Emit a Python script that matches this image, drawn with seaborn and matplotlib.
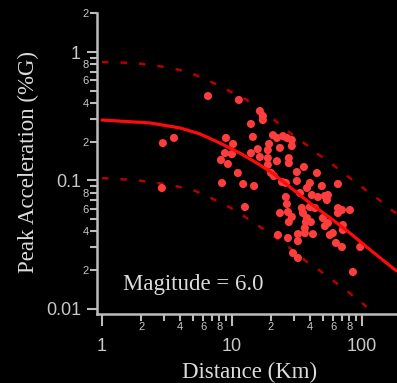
import matplotlib
matplotlib.use("Agg")
import matplotlib.pyplot as plt
import seaborn as sns
import pandas as pd
from matplotlib.ticker import FixedLocator, FixedFormatter

# ---------------- data ----------------
obs_distance_km = [2.94, 3.58, 2.89, 6.54, 11.3, 16.4, 17.3, 17.3, 14.0, 14.5,
                   20.7, 22.2, 24.7, 26.5, 28.9, 28.9, 8.99, 10.2, 8.84, 10.0,
                   8.23, 9.31, 19.3, 18.9, 23.4, 14.0, 15.8, 16.4, 18.9, 18.9,
                   22.2, 27.4, 27.4, 35.8, 31.6, 45.1, 11.1, 20.0, 21.0, 8.38,
                   12.2, 14.8, 24.3, 26.0, 31.6, 39.8, 37.8, 49.2, 65.4, 12.6,
                   26.0, 26.5, 33.4, 23.4, 27.0, 28.9, 27.4, 34.5, 37.8, 36.4,
                   22.6, 27.0, 32.2, 32.2, 36.4, 42.0, 29.5, 32.2, 39.8, 43.5,
                   37.1, 40.5, 54.8, 53.8, 50.1, 54.8, 51.9, 70.2, 80.9, 59.8,
                   63.1, 70.2, 71.4, 71.4, 97.0, 85.3, 41.2, 45.9, 51.9, 65.4,
                   65.4, 56.7, 35.2]
obs_pga = [0.195, 0.214, 0.0871, 0.454, 0.423, 0.347, 0.317, 0.295, 0.275, 0.218,
           0.225, 0.214, 0.221, 0.214, 0.206, 0.185, 0.214, 0.192, 0.163, 0.160,
           0.144, 0.134, 0.192, 0.172, 0.179, 0.163, 0.175, 0.152, 0.149, 0.132,
           0.141, 0.149, 0.136, 0.127, 0.116, 0.114, 0.114, 0.114, 0.108, 0.0953,
           0.0936, 0.0903, 0.0970, 0.0953, 0.0988, 0.0953, 0.0871, 0.0903, 0.0936, 0.0619,
           0.0741, 0.0653, 0.0796, 0.0556, 0.0566, 0.0518, 0.0473, 0.0608, 0.0508, 0.0425,
           0.0375, 0.0355, 0.0381, 0.0336, 0.0388, 0.0381, 0.0271, 0.0248, 0.0619, 0.0608,
           0.0473, 0.0473, 0.0768, 0.0702, 0.0508, 0.0465, 0.0440, 0.0587, 0.0587, 0.0388,
           0.0325, 0.0302, 0.0448, 0.0410, 0.0302, 0.0193, 0.0768, 0.0741, 0.0755, 0.0608,
           0.0556, 0.0375, 0.0556]

median_distance = [1.0, 2.34, 3.98, 5.67, 8.09, 11.5, 16.4, 21.4, 27.9, 39.8,
                   59.8, 80.9, 109, 176, 186]
median_pga = [0.295, 0.280, 0.256, 0.230, 0.195, 0.163, 0.132, 0.110, 0.0887, 0.0665,
              0.0491, 0.0388, 0.0302, 0.0204, 0.0197]

upper_distance = [1.0, 1.79, 2.34, 3.05, 3.98, 5.01, 6.42, 8.09, 10.2, 13.0,
                  16.4, 20.3, 24.7, 30.5, 37.8, 45.9, 57.8, 70.2, 86.8, 107,
                  133, 158, 186]
upper_pga = [0.836, 0.821, 0.792, 0.764, 0.724, 0.674, 0.605, 0.543, 0.479, 0.423,
             0.353, 0.306, 0.260, 0.218, 0.188, 0.160, 0.136, 0.116, 0.0988, 0.0840,
             0.0715, 0.0619, 0.0546]

lower_distance = [1.0, 1.79, 2.34, 3.05, 3.98, 5.01, 6.42, 8.23, 10.2, 13.0,
                  16.1, 20.0, 24.7, 30.5, 37.8, 46.7, 57.8, 71.4, 88.3, 109]
lower_pga = [0.104, 0.1005, 0.0970, 0.0936, 0.0887, 0.0840, 0.0755, 0.0665, 0.0597, 0.0508,
             0.0440, 0.0381, 0.0325, 0.0277, 0.0231, 0.0200, 0.0170, 0.0145, 0.0123, 0.0103]

y_major = [0.01, 0.1, 1]
y_major_labels = ["0.01", "0.1", "1"]
y_minor = [0.02, 0.03, 0.04, 0.05, 0.06, 0.07, 0.08, 0.09,
           0.2, 0.3, 0.4, 0.5, 0.6, 0.7, 0.8, 0.9, 2]
y_minor_labels = ["2", "", "4", "", "6", "", "8", "",
                  "2", "", "4", "", "6", "", "8", "", "2"]
x_major = [1, 10, 100]
x_major_labels = ["1", "10", "100"]
x_minor = [2, 3, 4, 5, 6, 7, 8, 9, 20, 30, 40, 50, 60, 70, 80, 90, 200]
x_minor_labels = ["2", "", "4", "", "6", "", "8", "",
                  "2", "", "4", "", "6", "", "8", "", "2"]

annotation = "Magitude = 6.0"
x_label = "Distance (Km)"
y_label = "Peak Acceleration (%G)"

# ---------------- style ----------------
sns.set_style("ticks")
BG = "#000000"
AXC = "#bcbcbc"
TXT = "#dcdcdc"
plt.rcParams["font.family"] = ["Liberation Sans", "DejaVu Sans"]

fig = plt.figure(figsize=(3.97, 3.83), dpi=100, facecolor=BG)
W, H = 397, 383
left_px, right_px = 97, 401
top_px, bottom_px = 13.4, 314
ax = fig.add_axes([left_px / W, (H - bottom_px) / H,
                   (right_px - left_px) / W, (bottom_px - top_px) / H])
ax.set_facecolor(BG)

obs = pd.DataFrame({"distance": obs_distance_km, "pga": obs_pga})
med = pd.DataFrame({"distance": median_distance, "pga": median_pga})
up = pd.DataFrame({"distance": upper_distance, "pga": upper_pga})
lo = pd.DataFrame({"distance": lower_distance, "pga": lower_pga})

sns.lineplot(data=up, x="distance", y="pga", ax=ax, color="#b30000", lw=1.8,
             linestyle=(0, (2.6, 4.8)), sort=False, estimator=None, zorder=2)
sns.lineplot(data=lo, x="distance", y="pga", ax=ax, color="#b30000", lw=1.8,
             linestyle=(0, (2.6, 4.8)), sort=False, estimator=None, zorder=2)
sns.scatterplot(data=obs, x="distance", y="pga", ax=ax, s=34, color="#ff3d3d",
                edgecolor="none", linewidth=0, zorder=3)
sns.lineplot(data=med, x="distance", y="pga", ax=ax, color="#ff0a0a", lw=2.3,
             sort=False, estimator=None, zorder=4)

ax.set_xscale("log")
ax.set_yscale("log")
ax.set_xlim(10 ** (-5 / 130), 200)
ax.set_ylim(10 ** (-262 / 128.3), 2)

for s in ["top", "right"]:
    ax.spines[s].set_visible(False)
for s in ["left", "bottom"]:
    ax.spines[s].set_color(AXC)
    ax.spines[s].set_linewidth(1.8)

ax.xaxis.set_major_locator(FixedLocator(x_major))
ax.xaxis.set_major_formatter(FixedFormatter(x_major_labels))
ax.xaxis.set_minor_locator(FixedLocator(x_minor))
ax.xaxis.set_minor_formatter(FixedFormatter(x_minor_labels))
ax.yaxis.set_major_locator(FixedLocator(y_major))
ax.yaxis.set_major_formatter(FixedFormatter(y_major_labels))
ax.yaxis.set_minor_locator(FixedLocator(y_minor))
ax.yaxis.set_minor_formatter(FixedFormatter(y_minor_labels))

ax.tick_params(axis="both", which="both", color=AXC, labelcolor="#c8c8c8", width=1.5,
               direction="out")
ax.tick_params(axis="x", which="major", length=8.5, pad=9, labelsize=13)
ax.tick_params(axis="x", which="minor", length=5, pad=1, labelsize=8)
ax.tick_params(axis="y", which="major", length=7.5, pad=4, labelsize=13)
ax.tick_params(axis="y", which="minor", length=5, pad=1, labelsize=8)

ax.set_xlabel("")
ax.set_ylabel("")
fig.text(250 / W, 1 - 372 / H, x_label, color=TXT, fontsize=16.5,
         family=["Liberation Serif", "DejaVu Serif"], ha="center", va="center")
fig.text(28 / W, 1 - 162 / H, y_label, color=TXT, fontsize=16.5, rotation=90,
         family=["Liberation Serif", "DejaVu Serif"], ha="center", va="center")
ax.text(1.45, 0.01396, annotation, color=TXT, fontsize=16.5,
        family=["Liberation Serif", "DejaVu Serif"], ha="left", va="baseline")

fig.savefig("out.png", dpi=100, facecolor=BG)
